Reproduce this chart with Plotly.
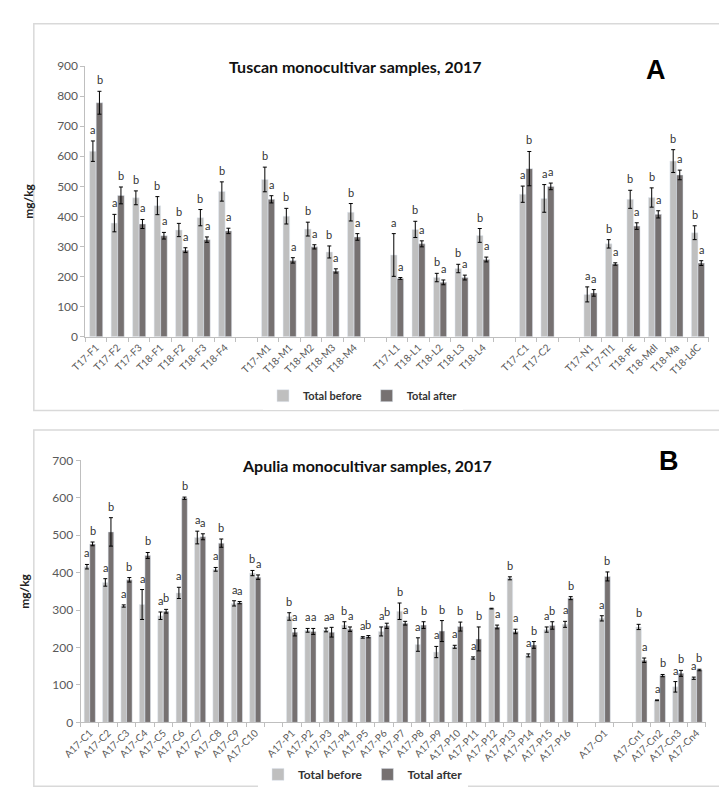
import plotly.graph_objects as go

# ---------------- Panel A data (Tuscan) ----------------
groups_A = [
    ["T17-F1", "T17-F2", "T17-F3", "T18-F1", "T18-F2", "T18-F3", "T18-F4"],
    ["T17-M1", "T18-M1", "T18-M2", "T18-M3", "T18-M4"],
    ["T17-L1", "T18-L1", "T18-L2", "T18-L3", "T18-L4"],
    ["T17-C1", "T17-C2"],
    ["T17-N1", "T17-TI1", "T18-PE", "T18-MdI", "T18-Ma", "T18-LdC"],
]
before_A = [617, 378, 462, 436, 355, 396, 483,
            523, 401, 358, 282, 414,
            272, 357, 197, 227, 337,
            474, 460,
            141, 309, 457, 463, 584, 346]
after_A = [778, 470, 375, 336, 288, 323, 352,
           457, 254, 299, 219, 332,
           194, 309, 181, 197, 257,
           559, 500,
           146, 242, 368, 407, 538, 245]
err_before_A = [34, 29, 23, 30, 22, 27, 32,
                41, 26, 23, 20, 29,
                71, 27, 14, 14, 23,
                27, 46,
                25, 14, 30, 32, 38, 23]
err_after_A = [38, 28, 15, 11, 8, 9, 9,
               12, 9, 7, 7, 11,
               3, 10, 8, 8, 8,
               57, 11,
               11, 4, 11, 12, 16, 8]
letters_before_A = ["a", "a", "b", "b", "b", "b", "b",
                    "b", "b", "b", "b", "b",
                    "a", "b", "b", "b", "b",
                    "a", "a",
                    "a", "b", "b", "b", "b", "b"]
letters_after_A = ["b", "b", "a", "a", "a", "a", "a",
                   "a", "a", "a", "a", "a",
                   "a", "a", "a", "a", "a",
                   "b", "a",
                   "a", "a", "a", "a", "a", "a"]

# ---------------- Panel B data (Apulia) ----------------
groups_B = [
    ["A17-C1", "A17-C2", "A17-C3", "A17-C4", "A17-C5", "A17-C6", "A17-C7", "A17-C8", "A17-C9", "A17-C10"],
    ["A17-P1", "A17-P2", "A17-P3", "A17-P4", "A17-P5", "A17-P6", "A17-P7", "A17-P8", "A17-P9", "A17-P10",
     "A17-P11", "A17-P12", "A17-P13", "A17-P14", "A17-P15", "A17-P16"],
    ["A17-O1"],
    ["A17-Cn1", "A17-Cn2", "A17-Cn3", "A17-Cn4"],
]
before_B = [416, 374, 311, 315, 285, 346, 494, 409, 318, 399,
            283, 246, 247, 260, 227, 243, 297, 208, 188, 202, 172, 304, 385, 179, 248, 262,
            278,
            255, 59, 95, 118]
after_B = [477, 509, 381, 446, 297, 599, 496, 479, 320, 388,
           241, 243, 241, 249, 229, 258, 265, 260, 244, 256, 223, 255, 243, 207, 259, 332,
           390,
           166, 125, 131, 140]
err_before_B = [6, 10, 3, 40, 10, 15, 17, 5, 7, 7,
                10, 5, 5, 9, 2, 12, 22, 18, 15, 4, 3, 1, 4, 4, 7, 8,
                7,
                7, 1, 14, 3]
err_after_B = [5, 38, 6, 8, 5, 3, 8, 11, 3, 6,
               10, 8, 13, 6, 3, 7, 5, 9, 28, 12, 32, 5, 6, 9, 10, 4,
               12,
               6, 3, 8, 2]
letters_before_B = ["a", "a", "a", "a", "a", "a", "a", "a", "a", "b",
                    "b", "a", "a", "b", "a", "a", "b", "a", "a", "a", "a", "b", "b", "a", "a", "a",
                    "a",
                    "b", "a", "a", "a"]
letters_after_B = ["b", "b", "b", "b", "b", "b", "a", "b", "a", "a",
                   "a", "a", "a", "a", "b", "b", "a", "b", "b", "b", "b", "a", "a", "b", "b", "b",
                   "b",
                   "a", "b", "b", "b"]

COLOR_BEFORE = "#BFBFBF"
COLOR_AFTER = "#767171"
FONT = "Lato"
W, H = 727, 793


def expand(groups, vals):
    """Insert blank gap categories between groups."""
    xs, ys = [], []
    i = 0
    for gi, g in enumerate(groups):
        if gi > 0:
            xs.append(" " * gi)
            ys.append(None)
        for c in g:
            xs.append(c)
            ys.append(vals[i])
            i += 1
    return xs, ys


fig = go.Figure()


def add_panel(groups, before, after, eb, ea, lb, la, xa, ya, legend, bar_half):
    x, yb = expand(groups, before)
    _, ybe = expand(groups, eb)
    _, ya_ = expand(groups, after)
    _, yae = expand(groups, ea)
    fig.add_trace(go.Bar(x=x, y=yb, name="<b>Total before</b>", marker_color=COLOR_BEFORE,
                         error_y=dict(type="data", array=ybe, color="black", thickness=1, width=2),
                         xaxis=xa, yaxis=ya, legend=legend))
    fig.add_trace(go.Bar(x=x, y=ya_, name="<b>Total after</b>", marker_color=COLOR_AFTER,
                         error_y=dict(type="data", array=yae, color="black", thickness=1, width=2),
                         xaxis=xa, yaxis=ya, legend=legend))
    cats = [c for g in groups for c in g]
    for c, v, e, t in zip(cats, before, eb, lb):
        fig.add_annotation(x=c, y=v + e, text=t, xref=xa, yref=ya, showarrow=False,
                           xshift=-bar_half, yanchor="bottom", yshift=3,
                           font=dict(family=FONT, size=11, color="#333333"))
    for c, v, e, t in zip(cats, after, ea, la):
        fig.add_annotation(x=c, y=v + e, text=t, xref=xa, yref=ya, showarrow=False,
                           xshift=bar_half, yanchor="bottom", yshift=3,
                           font=dict(family=FONT, size=11, color="#333333"))
    return x


xA = add_panel(groups_A, before_A, after_A, err_before_A, err_after_A,
               letters_before_A, letters_after_A, "x", "y", "legend", 3.4)
xB = add_panel(groups_B, before_B, after_B, err_before_B, err_after_B,
               letters_before_B, letters_after_B, "x2", "y2", "legend2", 2.8)


def py(p):
    return 1 - p / H


axis_common = dict(showline=True, linecolor="#BFBFBF", linewidth=1, ticks="outside",
                   tickcolor="#BFBFBF", ticklen=4, showgrid=False, zeroline=False)
xfont = dict(family=FONT, size=10, color="#595959")
yfont = dict(family=FONT, size=12, color="#595959")
ytitle = dict(text="<b>mg/kg</b>", font=dict(family=FONT, size=12, color="#222"), standoff=20)

fig.update_layout(
    width=W, height=H, margin=dict(l=0, r=0, t=0, b=0),
    paper_bgcolor="white", plot_bgcolor="white",
    barmode="group", bargap=0.39, bargroupgap=0,
    font=dict(family=FONT),
    xaxis=dict(domain=[60 / W, 700 / W], anchor="y", type="category",
               categoryorder="array", categoryarray=xA, tickson="boundaries",
               tickangle=-45, tickfont=xfont, **axis_common),
    yaxis=dict(domain=[py(327), py(51)], anchor="x", range=[0, 900], dtick=100,
               title=ytitle, tickfont=yfont, **axis_common),
    xaxis2=dict(domain=[55 / W, 697 / W], anchor="y2", type="category",
                categoryorder="array", categoryarray=xB, tickson="boundaries",
                tickangle=-45, tickfont=xfont, **axis_common),
    yaxis2=dict(domain=[py(720), py(453)], anchor="x2", range=[0, 700], dtick=100,
                title=ytitle, tickfont=yfont, **axis_common),
    legend=dict(orientation="h", x=345 / W, xanchor="center", y=py(387), yanchor="middle",
                font=dict(family=FONT, size=11, color="#333"), itemwidth=30,
                traceorder="normal"),
    legend2=dict(orientation="h", x=345 / W, xanchor="center", y=py(773), yanchor="middle",
                 font=dict(family=FONT, size=12, color="#333"), itemwidth=30,
                 traceorder="normal"),
)

# panel frames
fig.add_shape(type="rect", xref="paper", yref="paper", x0=7 / W, x1=717 / W,
              y0=py(402), y1=py(8), line=dict(color="#D9D9D9", width=1.5))
fig.add_shape(type="rect", xref="paper", yref="paper", x0=7 / W, x1=718 / W,
              y0=py(785), y1=py(422), line=dict(color="#D9D9D9", width=1.5))

# titles and panel letters
fig.add_annotation(text="<b>Tuscan monocultivar samples, 2017</b>", xref="paper", yref="paper",
                   x=337 / W, y=py(40), showarrow=False, font=dict(family=FONT, size=16, color="#111"))
fig.add_annotation(text="<b>A</b>", xref="paper", yref="paper",
                   x=658 / W, y=py(38), showarrow=False,
                   font=dict(family="Liberation Sans", size=27, color="black"))
fig.add_annotation(text="<b>Apulia monocultivar samples, 2017</b>", xref="paper", yref="paper",
                   x=349 / W, y=py(458), showarrow=False, font=dict(family=FONT, size=16, color="#111"))
fig.add_annotation(text="<b>B</b>", xref="paper", yref="paper",
                   x=672 / W, y=py(454), showarrow=False,
                   font=dict(family="Liberation Sans", size=27, color="black"))

fig.write_html("out.html")
